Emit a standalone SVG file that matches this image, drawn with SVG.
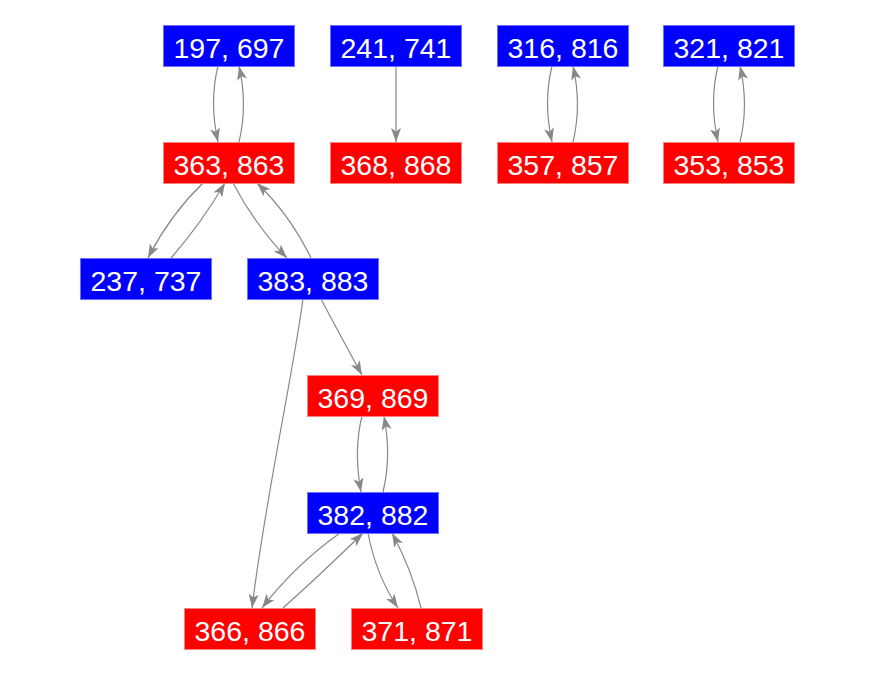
<svg xmlns="http://www.w3.org/2000/svg" width="875" height="675" viewBox="0 0 875 675">
<style>
.b rect{fill:#0000ff;stroke:#7070ff;stroke-width:1}
.r rect{fill:#ff0000;stroke:#ff8080;stroke-width:1}
text{font-family:"Liberation Sans",Arial,sans-serif;font-size:28.5px;fill:#ffffff;text-anchor:middle}
#edges path{fill:none;stroke:#888888;stroke-width:1.2;marker-end:url(#ah)}
</style>
<defs>
<marker id="ah" markerUnits="userSpaceOnUse" markerWidth="16" markerHeight="12" refX="14" refY="5" orient="auto">
<path d="M0,0 L14,5 L0,10 L3.5,5 z" fill="#888888"/>
</marker>
</defs>
<rect width="875" height="675" fill="#ffffff"/>
<g id="edges">
<path d="M218,66 C212,90 212,115 218,142"/>
<path d="M239,142 C245,117 245,92 239,66"/>
<path d="M396,66 L396,142"/>
<path d="M552,66 C546,90 546,115 552,142"/>
<path d="M573,142 C579,117 579,92 573,66"/>
<path d="M718,66 C712,90 712,115 718,142"/>
<path d="M740,142 C746,117 746,92 740,66"/>
<path d="M203,183 Q170,215 148,258"/>
<path d="M171,258 Q200,225 225,183"/>
<path d="M233,183 Q255,225 287,258"/>
<path d="M311,258 Q290,215 257,183"/>
<path d="M321,299 Q340,335 362,375"/>
<path d="M303,299 C292,380 265,500 252,608"/>
<path d="M362,416 C356,440 356,465 361,492"/>
<path d="M383,492 C389,467 389,442 384,416"/>
<path d="M340,533 Q295,565 262,608"/>
<path d="M283,608 Q320,575 363,533"/>
<path d="M368,533 Q376,575 398,608"/>
<path d="M421,608 Q412,570 392,533"/>
</g>
<g id="n197" class="b"><rect x="163.5" y="25.5" width="131" height="41"/><text x="229" y="58">197, 697</text></g>
<g id="n241" class="b"><rect x="330.5" y="25.5" width="131" height="41"/><text x="396" y="58">241, 741</text></g>
<g id="n316" class="b"><rect x="497.5" y="25.5" width="131" height="41"/><text x="563" y="58">316, 816</text></g>
<g id="n321" class="b"><rect x="663.5" y="25.5" width="131" height="41"/><text x="729" y="58">321, 821</text></g>
<g id="n363" class="r"><rect x="163.5" y="142.5" width="131" height="41"/><text x="229" y="175">363, 863</text></g>
<g id="n368" class="r"><rect x="330.5" y="142.5" width="131" height="41"/><text x="396" y="175">368, 868</text></g>
<g id="n357" class="r"><rect x="497.5" y="142.5" width="131" height="41"/><text x="563" y="175">357, 857</text></g>
<g id="n353" class="r"><rect x="663.5" y="142.5" width="131" height="41"/><text x="729" y="175">353, 853</text></g>
<g id="n237" class="b"><rect x="80.5" y="258.5" width="131" height="41"/><text x="146" y="291">237, 737</text></g>
<g id="n383" class="b"><rect x="247.5" y="258.5" width="131" height="41"/><text x="313" y="291">383, 883</text></g>
<g id="n369" class="r"><rect x="307.5" y="375.5" width="131" height="41"/><text x="373" y="408">369, 869</text></g>
<g id="n382" class="b"><rect x="307.5" y="492.5" width="131" height="41"/><text x="373" y="525">382, 882</text></g>
<g id="n366" class="r"><rect x="184.5" y="608.5" width="131" height="41"/><text x="250" y="641">366, 866</text></g>
<g id="n371" class="r"><rect x="351.5" y="608.5" width="131" height="41"/><text x="417" y="641">371, 871</text></g>
</svg>
